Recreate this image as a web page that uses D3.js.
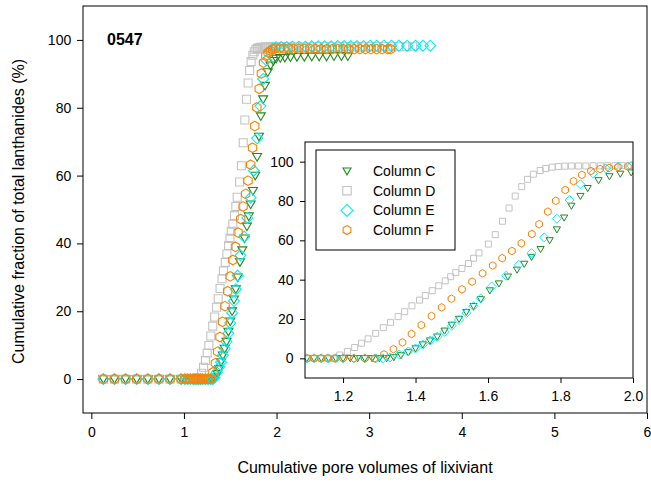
<!DOCTYPE html>
<html>
<head>
<meta charset="utf-8">
<script src="https://cdn.jsdelivr.net/npm/d3@7"></script>
<style>
  body { margin: 0; background: #fff; }
  svg { font-family: "Liberation Sans", Arial, sans-serif; }
</style>
</head>
<body>
<div id="chart"></div>
<script>
// 1: DATA
const seriesNames = ["Column C", "Column D", "Column E", "Column F"];
const xTicksMain = [0, 1, 2, 3, 4, 5, 6];
const yTicks = [0, 20, 40, 60, 80, 100];
const xTicksInset = [1.2, 1.4, 1.6, 1.8, 2.0];

const cX = [0.13,0.25,0.37,0.49,0.61,0.73,0.85,0.97,1.01,1.04,1.07,1.10,1.12,1.14,1.16,1.18,1.20,1.22,1.24,1.26,1.28,1.30,1.32,
  1.34,1.36,1.38,1.40,1.42,1.44,1.46,1.48,1.50,1.52,1.54,1.56,1.58,
  1.605,1.63,1.655,1.68,1.70,1.72,1.745,1.77,1.79,1.81,1.83,1.855,1.875,1.905,1.935,1.965,1.995,
  2.04,2.09,2.15,2.22,2.30,2.38,2.46,2.54,2.62,2.70,2.77];
const cY = [0,0,0,0,0,0,0,0,0,0,0,0,0,0,0,0,0,0,0,0,0,0,0,
  0.5,1.5,3,5,7,9,11,14,17,20,23.5,26.5,30,
  34.5,38,41.5,45,48,51.5,55.5,60,65.5,71.5,77.5,82.5,86.5,90.5,92.5,93.8,94.5,
  94.7,94.8,94.9,95.0,95.0,95.1,95.1,95.1,95.2,95.2,95.2];

const dX = [0.13,0.25,0.37,0.49,0.61,0.73,0.85,0.97,1.01,1.04,1.07,1.10,1.12,1.14,1.16,1.175,
  1.191,1.212,1.232,1.251,1.269,1.290,1.311,1.331,1.352,1.370,1.390,1.411,1.427,1.446,1.464,1.482,1.497,1.511,
  1.528,1.546,1.560,1.575,1.601,1.620,1.640,1.658,1.675,1.693,1.709,1.725,1.744,1.759,1.777,1.794,1.812,
  1.83,1.85,1.87,1.89,1.91,1.93,1.95,1.97,1.99,
  2.05,2.12,2.20,2.28,2.36,2.44,2.52,2.60,2.68,2.76,2.84,2.92,3.00,3.08,3.16,3.24,3.32,3.40,3.47];
const dY = [0,0,0,0,0,0,0,0,0,0,0,0,0,0,0,0,
  1.7,3.5,5.5,7.7,9.9,12.7,15.6,18.3,21.2,23.7,26.7,29.6,31.9,34.4,36.9,39.4,41.5,43.6,
  45.7,48.2,50.9,53.6,58.1,62.9,69.7,76.4,82.5,87.3,91.0,93.6,95.5,96.5,97.2,97.5,97.7,
  97.8,97.8,97.8,97.9,97.9,97.9,97.9,98.0,98.0,
  98.0,98.0,98.0,98.0,98.0,98.0,98.0,98.0,98.0,98.0,98.0,98.0,98.0,98.0,98.0,98.0,98.0,98.0,98.0];

const eX = [0.13,0.25,0.37,0.49,0.61,0.73,0.85,0.97,1.01,1.04,1.07,1.10,1.12,1.14,1.16,1.18,1.20,1.23,1.26,1.29,1.31,
  1.33,1.355,1.38,1.40,1.42,1.44,1.46,1.48,1.50,1.52,1.54,1.56,1.58,
  1.61,1.65,1.685,1.72,1.755,1.79,1.825,1.855,1.89,1.925,1.96,1.995,
  2.05,2.11,2.17,2.24,2.31,2.38,2.45,2.52,2.59,2.66,2.73,2.80,2.87,2.94,3.01,3.08,3.16,3.24,3.32,3.41,3.50,3.58,3.66];
const eY = [0,0,0,0,0,0,0,0,0,0,0,0,0,0,0,0,0,0,0,0,0,
  0.5,2,3.5,5,7,9,11,13.5,16.5,19.5,23,26.5,30.5,
  36.5,42,47.5,53.5,61.5,71,80.5,88.5,94,96.5,97.5,97.8,
  97.9,97.9,98.0,98.0,98.0,98.1,98.1,98.1,98.1,98.2,98.2,98.2,98.2,98.2,98.3,98.3,98.3,98.3,98.3,98.3,98.3,98.3,98.3];

const fX = [0.13,0.25,0.37,0.49,0.61,0.73,0.85,0.97,1.01,1.04,1.07,1.102,1.120,1.139,1.157,1.177,1.20,1.23,1.26,1.287,
  1.313,1.339,1.364,1.389,1.416,1.444,1.472,1.499,1.528,1.556,1.585,1.613,1.639,1.666,1.692,1.721,1.741,
  1.765,1.787,1.813,1.836,1.859,1.884,1.909,1.934,1.958,1.986,
  2.03,2.08,2.13,2.18,2.24,2.30,2.36,2.42,2.48,2.54,2.60,2.66,2.72,2.78,2.84,2.90,2.96,3.02,3.08,3.14,3.20,3.23];
const fY = [0,0,0,0,0,0,0,0,0,0,0,0,0,0,0,0,0,0,0,0,
  2.0,4.7,8.1,12.4,16.9,21.5,25.9,30.3,35.1,39.0,43.2,47.2,50.9,54.6,58.5,63.2,68.2,
  74.6,80.1,85.6,90.1,93.3,95.3,96.3,96.8,97.2,97.5,
  97.5,97.5,97.5,97.4,97.4,97.4,97.4,97.4,97.3,97.3,97.3,97.3,97.3,97.3,97.3,97.3,97.3,97.3,97.3,97.3,97.3,97.3];

// 2: SETUP
const W = 651, H = 490;
const colors = ["#1f8a1f", "#c3c3c3", "#00f0ff", "#ff8000"];
const shapes = ["tri", "square", "diamond", "hex"];

const series = [[cX, cY], [dX, dY], [eX, eY], [fX, fY]].map(([xs, ys], i) => ({
    name: seriesNames[i],
    color: colors[i],
    shape: shapes[i],
    values: xs.map((x, j) => ({ x: x, y: ys[j] }))
}));

// marker paths, r is the half width
function markerPath(shape, r) {
    if (shape === "tri") {
        return `M${-r},${-r * 0.75}L${r},${-r * 0.75}L0,${r * 0.95}Z`;
    }
    if (shape === "square") {
        return `M${-r},${-r}L${r},${-r}L${r},${r}L${-r},${r}Z`;
    }
    if (shape === "diamond") {
        return `M0,${-r}L${r},0L0,${r}L${-r},0Z`;
    }
    const pts = d3.range(6).map(k => {
        const a = (Math.PI / 3) * k - Math.PI / 2;
        return [r * Math.cos(a), r * Math.sin(a)];
    });
    return "M" + pts.map(p => p.join(",")).join("L") + "Z";
}

const mainSize = { tri: 4.5, square: 4, diamond: 5.5, hex: 4.8 };
const insetSize = { tri: 3.6, square: 3, diamond: 4.5, hex: 3.8 };
const legendSize = { tri: 4, square: 4.2, diamond: 6, hex: 4.5 };

const svg = d3.select("#chart")
    .append("svg")
    .attr("width", W)
    .attr("height", H);

// 3: MAIN CHART
const x = d3.scaleLinear().domain([-0.09, 6]).range([83, 647]);
const y = d3.scaleLinear().domain([-10, 110]).range([413, 6]);

for (const s of series) {
    svg.append("g")
        .selectAll("path")
        .data(s.values)
        .join("path")
        .attr("transform", d => `translate(${x(d.x)},${y(d.y)})`)
        .attr("d", markerPath(s.shape, mainSize[s.shape]))
        .attr("fill", "none")
        .attr("stroke", s.color)
        .attr("stroke-width", 1.1);
}

svg.append("rect")
    .attr("x", 83).attr("y", 6)
    .attr("width", 647 - 83).attr("height", 413 - 6)
    .attr("fill", "none").attr("stroke", "#000").attr("stroke-width", 1);

const xAxis = svg.append("g")
    .attr("transform", "translate(0,413)")
    .call(d3.axisBottom(x).tickValues(xTicksMain).tickFormat(d3.format("d")).tickSize(6).tickSizeOuter(0));
const yAxis = svg.append("g")
    .attr("transform", "translate(83,0)")
    .call(d3.axisLeft(y).tickValues(yTicks).tickSize(6).tickSizeOuter(0));
[xAxis, yAxis].forEach(g => {
    g.select(".domain").remove();
    g.selectAll("text").attr("font-size", 14).attr("fill", "#000")
        .attr("font-family", "Liberation Sans, Arial, sans-serif");
});
xAxis.selectAll("text").attr("dy", "1.05em");
yAxis.selectAll("text").attr("dx", "-0.2em");

svg.append("text")
    .attr("x", 107).attr("y", 45)
    .attr("font-size", 16).attr("font-weight", "bold")
    .text("0547");

svg.append("text")
    .attr("transform", "rotate(-90)")
    .attr("x", -(6 + 413) / 2 - 2)
    .attr("y", 24)
    .attr("text-anchor", "middle")
    .attr("font-size", 16)
    .text("Cumulative fraction of total lanthanides (%)");

svg.append("text")
    .attr("x", 365).attr("y", 473)
    .attr("text-anchor", "middle")
    .attr("font-size", 16)
    .text("Cumulative pore volumes of lixiviant");

// 4: INSET
const ix = d3.scaleLinear().domain([1.095, 2.0]).range([305, 633]);
const iy = d3.scaleLinear().domain([-10, 110]).range([378, 142]);

svg.append("rect")
    .attr("x", 305).attr("y", 142)
    .attr("width", 633 - 305).attr("height", 378 - 142)
    .attr("fill", "#fff");

svg.append("clipPath").attr("id", "insetClip")
    .append("rect")
    .attr("x", 305).attr("y", 142)
    .attr("width", 633 - 305).attr("height", 378 - 142);

const inset = svg.append("g").attr("clip-path", "url(#insetClip)");
for (const s of series) {
    inset.append("g")
        .selectAll("path")
        .data(s.values.filter(d => d.x >= 1.08 && d.x <= 2.02))
        .join("path")
        .attr("transform", d => `translate(${ix(d.x)},${iy(d.y)})`)
        .attr("d", markerPath(s.shape, insetSize[s.shape]))
        .attr("fill", "none")
        .attr("stroke", s.color)
        .attr("stroke-width", 1);
}

svg.append("rect")
    .attr("x", 305).attr("y", 142)
    .attr("width", 633 - 305).attr("height", 378 - 142)
    .attr("fill", "none").attr("stroke", "#000").attr("stroke-width", 1);

const ixAxis = svg.append("g")
    .attr("transform", "translate(0,378)")
    .call(d3.axisBottom(ix).tickValues(xTicksInset).tickFormat(d3.format(".1f")).tickSize(5).tickSizeOuter(0));
const iyAxis = svg.append("g")
    .attr("transform", "translate(305,0)")
    .call(d3.axisLeft(iy).tickValues(yTicks).tickSize(5).tickSizeOuter(0));
[ixAxis, iyAxis].forEach(g => {
    g.select(".domain").remove();
    g.selectAll("text").attr("font-size", 14).attr("fill", "#000")
        .attr("font-family", "Liberation Sans, Arial, sans-serif");
});
ixAxis.selectAll("text").attr("dy", "1.05em");
iyAxis.selectAll("text").attr("dx", "-0.25em");

// legend
const legend = svg.append("g");
legend.append("rect")
    .attr("x", 316).attr("y", 150)
    .attr("width", 139).attr("height", 100)
    .attr("fill", "#fff").attr("stroke", "#000").attr("stroke-width", 1);

series.forEach((s, i) => {
    const ly = 171 + i * 19.7;
    legend.append("path")
        .attr("transform", `translate(347,${ly})`)
        .attr("d", markerPath(s.shape, legendSize[s.shape]))
        .attr("fill", "none")
        .attr("stroke", s.color)
        .attr("stroke-width", 1.1);
    legend.append("text")
        .attr("x", 373).attr("y", ly)
        .attr("dy", "0.35em")
        .attr("font-size", 14)
        .text(s.name);
});
</script>
</body>
</html>
